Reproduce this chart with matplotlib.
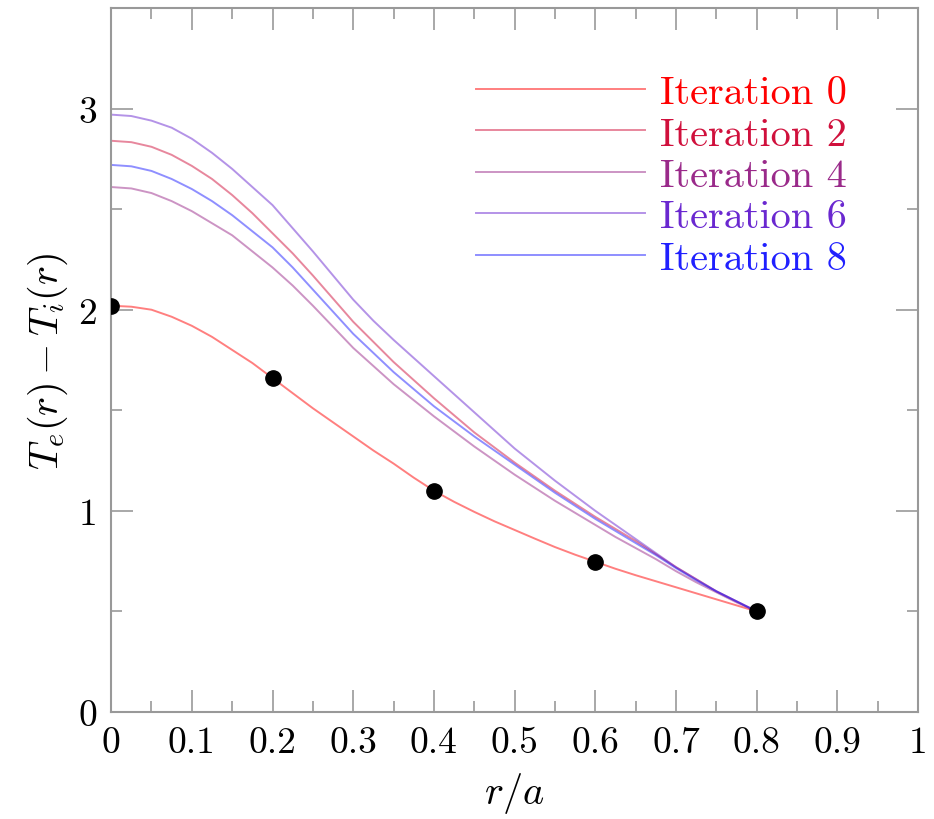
import numpy as np
import matplotlib
matplotlib.use("Agg")
import matplotlib.pyplot as plt

plt.rcParams['font.family'] = 'serif'
plt.rcParams['font.serif'] = ['cmr10']
plt.rcParams['mathtext.fontset'] = 'cm'
plt.rcParams['axes.formatter.use_mathtext'] = True

# radial grid r/a, step 0.025
r = np.linspace(0.0, 0.8, 33)

# Te - Ti profiles
iter0 = [2.02, 2.015, 2.00, 1.965, 1.92, 1.865, 1.80, 1.735, 1.66, 1.585,
         1.51, 1.44, 1.37, 1.30, 1.235, 1.165, 1.10, 1.045, 0.995, 0.948,
         0.905, 0.862, 0.82, 0.782, 0.747, 0.712, 0.68, 0.65, 0.62, 0.59,
         0.56, 0.53, 0.50]
iter2 = [2.84, 2.833, 2.81, 2.77, 2.715, 2.65, 2.57, 2.48, 2.38, 2.28,
         2.17, 2.055, 1.94, 1.84, 1.74, 1.65, 1.56, 1.475, 1.39, 1.315,
         1.24, 1.17, 1.10, 1.035, 0.97, 0.91, 0.85, 0.785, 0.72, 0.66,
         0.60, 0.55, 0.50]
iter4 = [2.61, 2.603, 2.58, 2.54, 2.49, 2.43, 2.37, 2.29, 2.21, 2.12,
         2.02, 1.915, 1.81, 1.72, 1.63, 1.55, 1.47, 1.395, 1.32, 1.25,
         1.18, 1.115, 1.05, 0.99, 0.93, 0.87, 0.815, 0.76, 0.70, 0.645,
         0.595, 0.545, 0.50]
iter6 = [2.97, 2.963, 2.94, 2.905, 2.85, 2.78, 2.70, 2.61, 2.52, 2.405,
         2.29, 2.17, 2.05, 1.945, 1.85, 1.76, 1.67, 1.58, 1.49, 1.40,
         1.31, 1.23, 1.15, 1.075, 1.00, 0.93, 0.86, 0.79, 0.72, 0.66,
         0.60, 0.55, 0.50]
iter8 = [2.72, 2.713, 2.69, 2.65, 2.60, 2.54, 2.47, 2.39, 2.31, 2.21,
         2.10, 1.99, 1.88, 1.785, 1.69, 1.605, 1.52, 1.445, 1.37, 1.30,
         1.23, 1.16, 1.09, 1.025, 0.96, 0.90, 0.84, 0.78, 0.715, 0.655,
         0.60, 0.55, 0.50]

# measured points
r_pts = [0.0, 0.2, 0.4, 0.6, 0.8]
y_pts = [2.02, 1.66, 1.10, 0.747, 0.50]

labels = ['Iteration 0', 'Iteration 2', 'Iteration 4', 'Iteration 6', 'Iteration 8']
colors = ['#ff0000', '#d0103c', '#9a2a8a', '#6a28d0', '#2020ff']

xticks = [0, 0.1, 0.2, 0.3, 0.4, 0.5, 0.6, 0.7, 0.8, 0.9, 1.0]
xticklabels = ['0', '0.1', '0.2', '0.3', '0.4', '0.5', '0.6', '0.7', '0.8', '0.9', '1']
yticks = [0, 1, 2, 3]
yticklabels = ['0', '1', '2', '3']

fig = plt.figure(figsize=(9.34, 8.2), dpi=100)
ax = fig.add_axes([0.119, 0.1305, 0.864, 0.8585])

series = [iter0, iter2, iter4, iter6, iter8]
for ys, lab, c in zip(series, labels, colors):
    ax.plot(r, ys, color=c, lw=1.4, alpha=0.5, label=lab)

ax.plot(r_pts, y_pts, 'o', color='black', markersize=11, zorder=5)

ax.set_xlim(0, 1)
ax.set_ylim(0, 3.5)
ax.set_xticks(xticks)
ax.set_xticklabels(xticklabels)
ax.set_xticks(np.arange(0.05, 1.0, 0.1), minor=True)
ax.set_yticks(yticks)
ax.set_yticklabels(yticklabels)
ax.set_yticks([0.5, 1.5, 2.5, 3.5], minor=True)

grey = '#999999'
for s in ax.spines.values():
    s.set_color(grey)
    s.set_linewidth(1.5)
ax.tick_params(which='both', direction='in', top=True, right=True, color=grey,
               width=1.2, labelsize=27, labelcolor='black')
ax.tick_params(which='major', length=16, pad=10)
ax.tick_params(which='minor', length=8)

ax.set_xlabel(r'$r/a$', fontsize=29, labelpad=8)
ax.set_ylabel(r'$T_e(r) - T_i(r)$', fontsize=29, labelpad=6)

leg = ax.legend(loc='upper right', bbox_to_anchor=(0.912, 0.905), frameon=False,
                fontsize=29, handlelength=4.2, handletextpad=0.37,
                labelspacing=0.13, borderpad=0, borderaxespad=0)
for txt, c in zip(leg.get_texts(), colors):
    txt.set_color(c)

fig.savefig('out.png', dpi=100)
